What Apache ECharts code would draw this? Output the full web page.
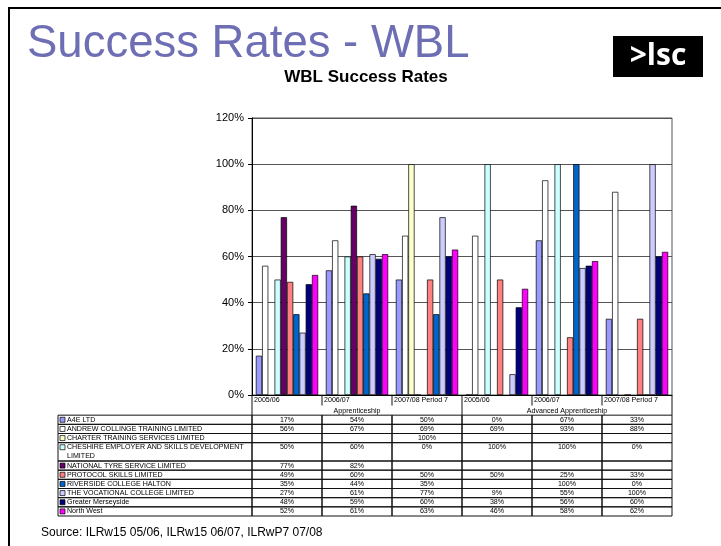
<!DOCTYPE html>
<html>
<head>
<meta charset="utf-8">
<script src="https://cdn.jsdelivr.net/npm/echarts@6/dist/echarts.min.js"></script>
<style>html,body{margin:0;padding:0;background:#fff}#c{width:721px;height:546px}</style>
</head>
<body>
<div id="c"></div>
<script>
// ---- data ----
const categories = ['2005/06', '2006/07', '2007/08 Period 7', '2005/06', '2006/07', '2007/08 Period 7'];
const groupNames = ['Apprenticeship', 'Advanced Apprenticeship'];
const groupSpans = [[0, 2], [3, 5]];
const seriesNames = [
  'A4E LTD',
  'ANDREW COLLINGE TRAINING LIMITED',
  'CHARTER TRAINING SERVICES LIMITED',
  'CHESHIRE EMPLOYER AND SKILLS DEVELOPMENT\nLIMITED',
  'NATIONAL TYRE SERVICE LIMITED',
  'PROTOCOL SKILLS LIMITED',
  'RIVERSIDE COLLEGE HALTON',
  'THE VOCATIONAL COLLEGE LIMITED',
  'Greater Merseyside',
  'North West'
];
const a4e        = [17, 54, 50, 0, 67, 33];
const andrew     = [56, 67, 69, 69, 93, 88];
const charter    = [null, null, 100, null, null, null];
const cheshire   = [50, 60, 0, 100, 100, 0];
const nts        = [77, 82, null, null, null, null];
const protocol   = [49, 60, 50, 50, 25, 33];
const riverside  = [35, 44, 35, null, 100, 0];
const vocational = [27, 61, 77, 9, 55, 100];
const merseyside = [48, 59, 60, 38, 56, 60];
const northWest  = [52, 61, 63, 46, 58, 62];
const seriesValues = [a4e, andrew, charter, cheshire, nts, protocol, riverside, vocational, merseyside, northWest];
const yMin = 0, yMax = 120, yStep = 20;

// ---- styles ----
const colors = ['#9999FF', '#FFFFFF', '#FFFFCC', '#CCFFFF', '#660066', '#FF8080', '#0066CC', '#CCCCFF', '#000080', '#FF00FF'];
const FONT = 'Liberation Sans, Arial, sans-serif';
const rowHeights = [1, 1, 1, 2, 1, 1, 1, 1, 1, 1];
const rowStart = [];
(function(){ let s = 0; rowHeights.forEach(h => { rowStart.push(s); s += h; }); })();
const legendColWidth = 194;
const tableFont = 7.1;
const lineCol = '#111';

const chart = echarts.init(document.getElementById('c'), null, {renderer: 'canvas'});

const barSeries = seriesNames.map((n, i) => ({
  type: 'bar',
  name: n,
  data: seriesValues[i],
  xAxisIndex: 0, yAxisIndex: 0,
  barGap: '0%',
  barCategoryGap: '11%',
  itemStyle: {color: colors[i], borderColor: '#000', borderWidth: 0.7},
  emphasis: {disabled: true}
}));

// cells
const cellData = [];
seriesValues.forEach((vals, r) => vals.forEach((v, c) => cellData.push([c, r, v == null ? '' : v + '%'])));

function unitY(api, v) { return api.coord([0, v])[1]; }

const cellSeries = {
  type: 'custom', xAxisIndex: 1, yAxisIndex: 1, silent: true,
  data: cellData,
  encode: {x: 0, y: 1},
  renderItem: function (params, api) {
    const c = api.value(0), r = api.value(1);
    const txt = cellData[params.dataIndex][2];
    const w = api.size([1, 0])[0];
    const xc = api.coord([c, 0])[0];
    const y0 = unitY(api, rowStart[r]);
    const y1 = unitY(api, rowStart[r] + rowHeights[r]);
    const u = unitY(api, 1) - unitY(api, 0);
    return {type: 'group', children: [
      {type: 'rect', shape: {x: xc - w / 2, y: y0, width: w, height: y1 - y0}, style: {fill: 'none', stroke: lineCol, lineWidth: 1}},
      {type: 'text', style: {text: txt, x: xc, y: y0 + u / 2, align: 'center', verticalAlign: 'middle', fontSize: tableFont, fontFamily: FONT, fill: '#000'}}
    ]};
  }
};

const legendData = seriesNames.map((n, r) => [0, r]);
const legendSeries = {
  type: 'custom', xAxisIndex: 1, yAxisIndex: 1, silent: true,
  data: legendData,
  encode: {x: 0, y: 1},
  renderItem: function (params, api) {
    const r = params.dataIndex;
    const cs = params.coordSys;
    const x0 = cs.x - legendColWidth;
    const y0 = unitY(api, rowStart[r]);
    const y1 = unitY(api, rowStart[r] + rowHeights[r]);
    const u = unitY(api, 1) - unitY(api, 0);
    const lines = seriesNames[r].split('\n');
    const children = [
      {type: 'rect', shape: {x: x0, y: y0, width: legendColWidth, height: y1 - y0}, style: {fill: 'none', stroke: lineCol, lineWidth: 1}},
      {type: 'rect', shape: {x: x0 + 2, y: y0 + u / 2 - 2.5, width: 5, height: 5}, style: {fill: colors[r], stroke: '#000', lineWidth: 0.7}}
    ];
    lines.forEach((ln, k) => children.push({type: 'text', style: {text: ln, x: x0 + 9, y: y0 + u / 2 + k * u, align: 'left', verticalAlign: 'middle', fontSize: tableFont, fontFamily: FONT, fill: '#000'}}));
    return {type: 'group', children: children};
  }
};

const headerData = categories.map((c, i) => [i, 0]);
const headerSeries = {
  type: 'custom', xAxisIndex: 1, yAxisIndex: 1, silent: true,
  data: headerData,
  encode: {x: 0, y: 1},
  renderItem: function (params, api) {
    const i = params.dataIndex;
    const w = api.size([1, 0])[0];
    const xc = api.coord([i, 0])[0];
    const top = params.coordSys.y;
    const yLab = unitY(api, -1.6);
    const yShort = unitY(api, -1.05);
    const yFull = unitY(api, 0);
    const isGroupStart = groupSpans.some(s => s[0] === i);
    const children = [
      {type: 'line', shape: {x1: xc - w / 2, y1: top, x2: xc - w / 2, y2: isGroupStart ? yFull : yShort}, style: {stroke: lineCol, lineWidth: 1}},
      {type: 'text', style: {text: categories[i], x: xc - w / 2 + 2, y: yLab, align: 'left', verticalAlign: 'middle', fontSize: tableFont, fontFamily: FONT, fill: '#000'}}
    ];
    if (i === categories.length - 1) {
      children.push({type: 'line', shape: {x1: xc + w / 2, y1: top, x2: xc + w / 2, y2: yFull}, style: {stroke: lineCol, lineWidth: 1}});
    }
    return {type: 'group', children: children};
  }
};

const groupData = groupNames.map((g, i) => [groupSpans[i][0], 0]);
const groupSeries = {
  type: 'custom', xAxisIndex: 1, yAxisIndex: 1, silent: true,
  data: groupData,
  encode: {x: 0, y: 1},
  renderItem: function (params, api) {
    const i = params.dataIndex;
    const span = groupSpans[i];
    const xa = api.coord([span[0], 0])[0];
    const xb = api.coord([span[1], 0])[0];
    const y = unitY(api, -0.5);
    return {type: 'text', style: {text: groupNames[i], x: (xa + xb) / 2, y: y, align: 'center', verticalAlign: 'middle', fontSize: tableFont, fontFamily: FONT, fill: '#000'}};
  }
};

const option = {
  animation: false,
  backgroundColor: '#fff',
  grid: [
    {left: 252, right: 49, top: 118, bottom: 151, show: true, borderColor: '#555', borderWidth: 1, backgroundColor: 'transparent'},
    {left: 252, right: 49, top: 395, bottom: 30}
  ],
  xAxis: [
    {type: 'category', data: categories, gridIndex: 0, axisLine: {lineStyle: {color: '#000', width: 1}}, axisTick: {show: false}, axisLabel: {show: false}, splitLine: {show: false}},
    {type: 'category', data: categories, gridIndex: 1, show: false}
  ],
  yAxis: [
    {type: 'value', gridIndex: 0, min: yMin, max: yMax, interval: yStep,
      axisLine: {show: true, lineStyle: {color: '#000', width: 1}},
      axisTick: {show: true, length: 4, lineStyle: {color: '#000'}},
      axisLabel: {formatter: '{value}%', fontSize: 11, color: '#000', fontFamily: FONT, margin: 8},
      splitLine: {show: true, lineStyle: {color: '#555', width: 1}}},
    {type: 'value', gridIndex: 1, min: -2.2, max: 11, inverse: true, show: false}
  ],
  series: barSeries.concat([cellSeries, legendSeries, headerSeries, groupSeries]),
  graphic: [
    {type: 'line', shape: {x1: 9, y1: 8, x2: 9, y2: 546}, style: {stroke: '#000', lineWidth: 2}},
    {type: 'line', shape: {x1: 8, y1: 8, x2: 721, y2: 8}, style: {stroke: '#000', lineWidth: 2}},
    {type: 'text', x: 27, y: 44, style: {text: 'Success Rates - WBL', fontSize: 45.5, fontFamily: FONT, fill: '#6E6EB4', verticalAlign: 'middle'}},
    {type: 'text', x: 366, y: 77, style: {text: 'WBL Success Rates', fontSize: 17, fontWeight: 'bold', fontFamily: FONT, fill: '#000', align: 'center', verticalAlign: 'middle'}},
    {type: 'rect', shape: {x: 613, y: 36, width: 90, height: 41}, style: {fill: '#000'}},
    {type: 'text', x: 658, y: 56, style: {text: '>lsc', fontSize: 30, fontWeight: 'bold', fontFamily: 'Open Sans, DejaVu Sans, sans-serif', fill: '#fff', align: 'center', verticalAlign: 'middle'}},
    {type: 'text', x: 41, y: 533, style: {text: 'Source: ILRw15 05/06, ILRw15 06/07, ILRwP7 07/08', fontSize: 12, fontFamily: FONT, fill: '#000', verticalAlign: 'middle'}}
  ]
};
chart.setOption(option);
</script>
</body>
</html>
